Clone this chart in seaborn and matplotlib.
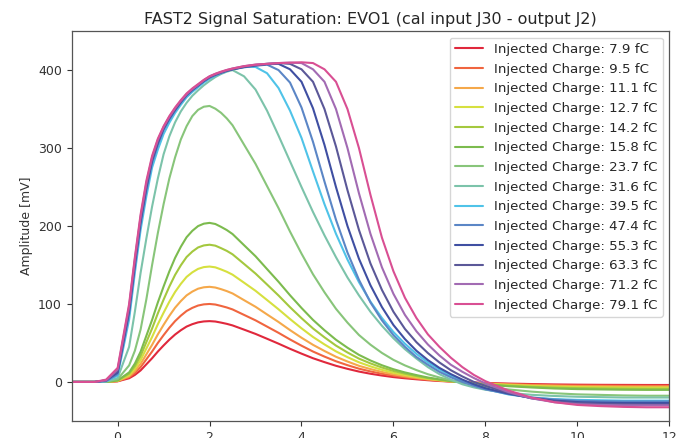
import matplotlib
matplotlib.use("Agg")
import matplotlib.pyplot as plt
import seaborn as sns
import pandas as pd

# Sample times [a.u.]
time = [-1, -0.5, -0.25, 0, 0.25, 0.375, 0.5, 0.625, 0.75, 0.875, 1.0, 1.125, 1.25, 1.375,
        1.5, 1.625, 1.75, 1.875, 2.0, 2.125, 2.25, 2.375, 2.5, 2.75, 3.0, 3.25, 3.5, 3.75,
        4.0, 4.25, 4.5, 4.75, 5.0, 5.25, 5.5, 5.75, 6.0, 6.25, 6.5, 6.75, 7.0, 7.25, 7.5,
        7.75, 8.0, 8.5, 9.0, 9.5, 10.0, 10.5, 11.0, 11.5, 12.0]

# Injected charge per pulse [fC]
charges = [7.9, 9.5, 11.1, 12.7, 14.2, 15.8, 23.7, 31.6, 39.5, 47.4, 55.3, 63.3, 71.2, 79.1]

# Measured amplitude [mV] for each injected charge
amp_7_9 = [0, 0, 0, 0.8, 4.7, 9.0, 14.8, 22.6, 30.4, 39.0, 46.8, 54.2, 60.8, 66.3, 71.0, 74.1,
           76.4, 77.6, 78.0, 77.5, 76.1, 74.5, 72.5, 67.1, 61.6, 55.4, 49.1, 42.5, 36.3, 30.4,
           25.4, 20.7, 16.8, 13.3, 10.5, 8.2, 6.2, 4.7, 3.4, 2.2, 1.2, 0.5, -0.2, -0.8, -1.3,
           -2.1, -2.7, -3.2, -3.5, -3.7, -3.8, -3.9, -3.9]
amp_9_5 = [0, 0, 0, 1, 6, 11.5, 19, 29, 39, 50, 60, 69.5, 78, 85, 91, 95, 98, 99.5, 100, 99.3,
           97.5, 95.5, 93, 86, 79, 71, 63, 54.5, 46.5, 39, 32.5, 26.5, 21.5, 17, 13.5, 10.5, 8,
           6, 4.3, 2.8, 1.6, 0.6, -0.3, -1, -1.7, -2.7, -3.5, -4.1, -4.5, -4.7, -4.9, -5, -5]
amp_11_1 = [0, 0, 0, 1.2, 7.3, 14, 23.2, 35.4, 47.6, 61, 73.2, 84.8, 95.2, 103.7, 111, 115.9,
            119.6, 121.4, 122, 121.1, 119, 116.5, 113.5, 104.9, 96.4, 86.6, 76.9, 66.5, 56.7,
            47.6, 39.7, 32.3, 26.2, 20.7, 16.5, 12.8, 9.8, 7.3, 5.2, 3.4, 2, 0.7, -0.4, -1.2,
            -2.1, -3.3, -4.3, -5, -5.5, -5.7, -6, -6.1, -6.1]
amp_12_7 = [0, 0, 0, 1.5, 8.9, 17, 28.1, 42.9, 57.7, 74, 88.8, 102.9, 115.4, 125.8, 134.7,
            140.6, 145, 147.3, 148, 147, 144.3, 141.3, 137.6, 127.3, 116.9, 105.1, 93.2, 80.7,
            68.8, 57.7, 48.1, 39.2, 31.8, 25.2, 20, 15.5, 11.8, 8.9, 6.4, 4.1, 2.4, 0.9, -0.4,
            -1.5, -2.5, -4, -5.2, -6.1, -6.7, -7, -7.3, -7.4, -7.4]
amp_14_2 = [0, 0, 0, 1.8, 10.6, 20.2, 33.4, 51, 68.6, 88, 105.6, 122.3, 137.3, 149.6, 160.2,
            167.2, 172.5, 175.1, 176, 174.8, 171.6, 168.1, 163.7, 151.4, 139, 125, 110.9, 95.9,
            81.8, 68.6, 57.2, 46.6, 37.8, 29.9, 23.8, 18.5, 14.1, 10.6, 7.6, 4.9, 2.8, 1.1,
            -0.5, -1.8, -3, -4.8, -6.2, -7.2, -7.9, -8.3, -8.6, -8.8, -8.8]
amp_15_8 = [0, 0, 0, 2, 12.2, 23.5, 38.8, 59.2, 79.6, 102, 122.4, 141.8, 159.1, 173.4, 185.6,
            193.8, 199.9, 203, 204, 202.6, 198.9, 194.8, 189.7, 175.4, 161.2, 144.8, 128.5,
            111.2, 94.9, 79.6, 66.3, 54.1, 43.9, 34.7, 27.5, 21.4, 16.3, 12.2, 8.8, 5.7, 3.3,
            1.2, -0.6, -2, -3.5, -5.5, -7.1, -8.4, -9.2, -9.6, -10, -10.2, -10.2]
amp_23_7 = [0, 0, 0.5, 3.5, 21.2, 40, 67.3, 106, 150, 191, 228, 261, 288, 311, 328, 341, 349,
            353, 354, 350.5, 345.2, 338, 329.2, 304.4, 279.7, 251.3, 223, 192.9, 164.6, 138.1,
            115, 93.8, 76.1, 60.2, 47.8, 37.2, 28.3, 21.2, 15.2, 9.9, 5.7, 2.1, -1.1, -3.5, -6,
            -9.6, -12.4, -14.5, -15.9, -16.6, -17.3, -17.7, -17.7]
amp_31_6 = [0, 0, 0.5, 5, 45, 90, 140, 184, 225, 261, 292, 315, 333, 347, 358, 367, 374, 380.5,
            386, 391, 395, 398, 400, 392, 375, 348, 316, 283, 250, 218, 188, 160, 134, 111, 90,
            72, 56, 42, 30, 19, 10, 3, -3, -7, -10, -14, -16.5, -18, -19, -19.5, -20, -20, -20]
amp_39_5 = [0, 0, 1, 8, 80, 140, 195, 238, 275, 298, 318, 332.5, 345, 355.5, 365, 372, 378, 384,
            389, 392.8, 396, 398.8, 401, 404, 404, 396, 377, 348, 313, 270, 228, 190, 157, 128,
            103, 82, 64, 49, 36, 25, 16, 8, 1, -4, -9, -16, -20, -22, -23, -23.5, -24, -24, -24]
amp_47_4 = [0, 0, 1, 10, 87, 147, 202, 245, 281, 304, 323, 336.5, 348, 358, 367, 374, 380,
            385.5, 390, 393.3, 396, 398.8, 401, 403.5, 405.5, 407, 400, 384, 352, 308, 257, 208,
            166, 131, 102, 79, 60, 45, 32, 22, 13, 6, 0, -5, -9.5, -15.5, -20, -22.5, -24,
            -24.7, -25, -25, -25]
amp_55_3 = [0, 0, 2, 12, 91, 151, 206, 249, 284, 306.5, 325, 338, 349, 359, 368, 374.5, 380,
            386, 391, 394.3, 397, 399.3, 401, 404, 406, 407.5, 408, 401, 385, 351, 304, 250, 200,
            158, 124, 96, 73, 55, 40, 28, 18, 10, 3, -3, -8, -15, -20.5, -24, -25.8, -26.6, -27,
            -27, -27]
amp_63_3 = [0, 0, 2, 14, 94, 154, 209, 252, 286, 308.5, 326, 339, 350, 360, 369, 375.5, 381,
            386.5, 391, 394.3, 397, 399.3, 401, 404.5, 406.5, 408, 409, 408, 401, 385, 350, 302,
            246, 195, 152, 118, 90, 68, 51, 37, 25, 15, 7, 0, -5, -14, -21, -25, -27, -28,
            -28.5, -29, -29]
amp_71_2 = [0, 0, 2, 16, 97, 157, 212, 255, 288, 310.5, 327, 340, 351, 360.5, 369, 375.5, 381,
            387, 392, 395, 397.5, 400, 402, 405, 407, 408, 409, 409.5, 409, 401, 385, 350, 300,
            242, 190, 147, 113, 86, 65, 48, 34, 22, 13, 5, -2, -13, -21, -26, -28.5, -29.5, -30,
            -30, -30]
amp_79_1 = [0, 0, 3, 18, 100, 160, 215, 258, 290, 312, 328, 341, 352, 361.5, 370, 376.5, 382,
            387.5, 392, 395.3, 398, 400.2, 402, 405, 407, 408, 409, 409.5, 410, 409, 401, 385,
            350, 300, 240, 185, 142, 108, 82, 61, 45, 31, 19, 9, 1, -11, -20, -26, -29.5, -31,
            -32, -32.5, -32.5]

amplitudes = [amp_7_9, amp_9_5, amp_11_1, amp_12_7, amp_14_2, amp_15_8, amp_23_7,
              amp_31_6, amp_39_5, amp_47_4, amp_55_3, amp_63_3, amp_71_2, amp_79_1]

colors = ['#e0283c', '#f0653f', '#f5a84a', '#d6e03f', '#a4c83e', '#7cbb4e', '#88c57a',
          '#7cc3aa', '#4fc3e8', '#5b86c6', '#3f4fa2', '#5b5898', '#a26bb3', '#d94f93']

labels = [f"Injected Charge: {q:.1f} fC" for q in charges]

frames = []
for lab, amp in zip(labels, amplitudes):
    frames.append(pd.DataFrame({"time": time, "amplitude": amp, "charge": lab}))
df = pd.concat(frames, ignore_index=True)

sns.set_theme(style="ticks")
plt.rcParams['font.family'] = ['DejaVu Sans']

fig = plt.figure(figsize=(6.76, 4.38), dpi=100)
ax = fig.add_axes([0.106, 0.039, 0.884, 0.890])

sns.lineplot(data=df, x="time", y="amplitude", hue="charge", hue_order=labels,
             palette=colors, linewidth=1.5, errorbar=None, sort=True, ax=ax)

ax.set_xlim(-1, 12)
ax.set_ylim(-50, 450)
ax.set_xticks([0, 2, 4, 6, 8, 10, 12])
ax.set_yticks([0, 100, 200, 300, 400])
ax.set_xlabel("")
ax.set_ylabel("Amplitude [mV]", fontsize=9, color='#333333')
ax.set_title("FAST2 Signal Saturation: EVO1 (cal input J30 - output J2)",
             fontsize=11.5, color='#262626', pad=5)
ax.tick_params(labelsize=9, colors='#333333', length=3.5, width=0.8)
for side in ["top", "right", "bottom", "left"]:
    ax.spines[side].set_visible(True)
    ax.spines[side].set_color('#555555')
    ax.spines[side].set_linewidth(0.9)

leg = ax.legend(loc="upper right", fontsize=9.6, handlelength=2.1, labelspacing=0.5,
                frameon=True, fancybox=True, framealpha=0.8, edgecolor='#cccccc', title=None)
for line in leg.get_lines():
    line.set_linewidth(1.5)

fig.savefig("out.png", dpi=100)
